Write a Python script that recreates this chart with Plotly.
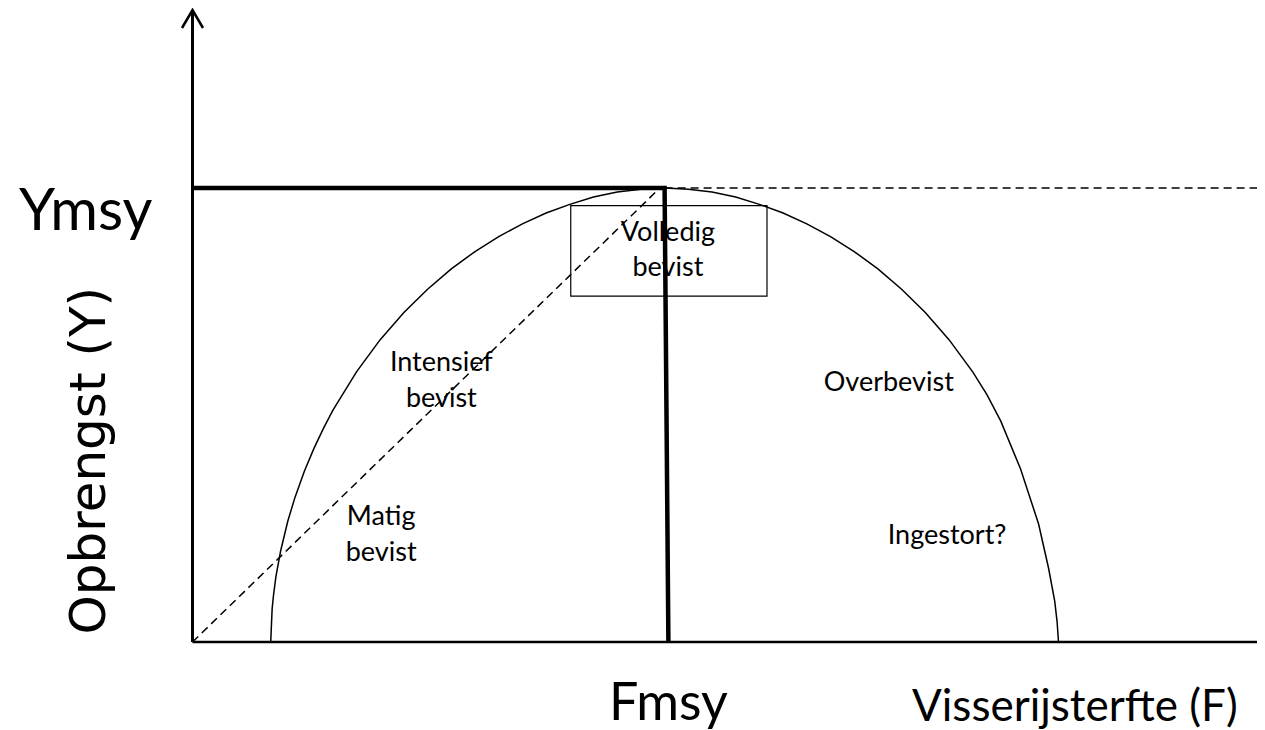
import plotly.graph_objects as go

# relative units: Fmsy = 1, Ymsy = 1
curve_f = [0.165, 0.168, 0.171, 0.176, 0.186, 0.201, 0.216, 0.236, 0.256, 0.276,
           0.296, 0.346, 0.396, 0.446, 0.496, 0.546, 0.596, 0.646, 0.696, 0.746,
           0.796, 0.846, 0.896, 0.946, 0.996, 1.046, 1.096, 1.146, 1.196, 1.246,
           1.296, 1.346, 1.396, 1.446, 1.496, 1.546, 1.596, 1.646, 1.676, 1.705,
           1.747, 1.785, 1.806, 1.819, 1.824, 1.827]
curve_y = [0.0, 0.073, 0.104, 0.144, 0.201, 0.266, 0.318, 0.376, 0.426, 0.470,
           0.510, 0.595, 0.666, 0.726, 0.777, 0.822, 0.860, 0.893, 0.921, 0.945,
           0.964, 0.980, 0.991, 0.997, 1.0, 0.997, 0.991, 0.980, 0.964, 0.945,
           0.921, 0.893, 0.860, 0.822, 0.777, 0.726, 0.666, 0.595, 0.545, 0.487,
           0.381, 0.260, 0.163, 0.090, 0.045, 0.0]

y_msy = 1.0
f_msy_top = 0.996
f_msy_bottom = 1.004
ref_line_end = 2.27

diag_f = [0.0, 0.986]
diag_y = [0.0, 1.0]

box_f = [0.798, 1.212]
box_y = [0.762, 0.961]

zone_labels = ["Matig<br>bevist", "Intensief<br>bevist", "Volledig<br>bevist",
               "Overbevist", "Ingestort?"]
zone_f = [0.398, 0.525, 1.003, 1.469, 1.592]
zone_y = [0.233, 0.572, 0.859, 0.568, 0.231]

font = "Lato, 'Open Sans', sans-serif"

fig = go.Figure()

# zone labels first so the lines are drawn over them
fig.add_trace(go.Scatter(
    x=zone_f, y=zone_y, mode="text", text=zone_labels,
    textposition="middle center",
    textfont=dict(family=font, size=27, color="black"),
    hoverinfo="skip", showlegend=False))

# yield curve
fig.add_trace(go.Scatter(
    x=curve_f, y=curve_y, mode="lines",
    line=dict(color="black", width=1.5),
    hoverinfo="skip", showlegend=False))

# dashed diagonal and dashed Ymsy extension
fig.add_trace(go.Scatter(
    x=diag_f, y=diag_y, mode="lines",
    line=dict(color="black", width=1.5, dash="8px,5px"),
    hoverinfo="skip", showlegend=False))
fig.add_trace(go.Scatter(
    x=[f_msy_top, ref_line_end], y=[y_msy, y_msy], mode="lines",
    line=dict(color="black", width=1.5, dash="8px,5px"),
    hoverinfo="skip", showlegend=False))

# thick Ymsy / Fmsy lines
fig.add_trace(go.Scatter(
    x=[0, f_msy_top, f_msy_bottom], y=[y_msy, y_msy, 0], mode="lines",
    line=dict(color="black", width=4.5),
    hoverinfo="skip", showlegend=False))

# scale of the drawing: pixels per unit, origin at page pixel (192.5, 642)
px_f = 474.0
px_y = 454.0
ox, oy = 192.5, 642.0
page_pad = 8  # default body margin of the html page
y_top = (oy - 10) / px_y
x_end = 2.29

shapes = [
    dict(type="line", x0=0, y0=0, x1=0, y1=y_top, line=dict(color="black", width=3)),
    dict(type="line", x0=0, y0=0, x1=x_end, y1=0, line=dict(color="black", width=2.5)),
    dict(type="path",
         path=f"M {-10.5/px_f},{y_top-18/px_y} L 0,{y_top} L {10.5/px_f},{y_top-18/px_y}",
         line=dict(color="black", width=2.5)),
    dict(type="path",
         path=f"M {x_end-18/px_f},{10/px_y} L {x_end},0 L {x_end-18/px_f},{-10/px_y}",
         line=dict(color="black", width=2.5)),
    dict(type="rect", x0=box_f[0], x1=box_f[1], y0=box_y[0], y1=box_y[1],
         line=dict(color="black", width=1.2)),
]

annotations = [
    dict(x=-0.224, y=0.957, text="Ymsy", showarrow=False,
         font=dict(family=font, size=58, color="black")),
    dict(x=-0.220, y=0.400, text="Opbrengst (Y)", showarrow=False, textangle=-90,
         font=dict(family="'DejaVu Sans', sans-serif", size=50, color="black")),
    dict(x=1.004, y=-0.128, text="Fmsy", showarrow=False,
         font=dict(family=font, size=52, color="black")),
    dict(x=1.862, y=-0.136, text="Visserijsterfte (F)", showarrow=False,
         font=dict(family=font, size=44, color="black")),
]

W, H = 1265, 730
fig.update_layout(
    width=W - page_pad, height=H - page_pad,
    margin=dict(l=0, r=0, t=0, b=0),
    paper_bgcolor="white", plot_bgcolor="white",
    xaxis=dict(range=[(page_pad - ox) / px_f, (W - ox) / px_f],
               visible=False, fixedrange=True),
    yaxis=dict(range=[(oy - H) / px_y, (oy - page_pad) / px_y],
               visible=False, fixedrange=True),
    shapes=shapes,
    annotations=annotations,
    showlegend=False,
)

fig.write_html("out.html")
